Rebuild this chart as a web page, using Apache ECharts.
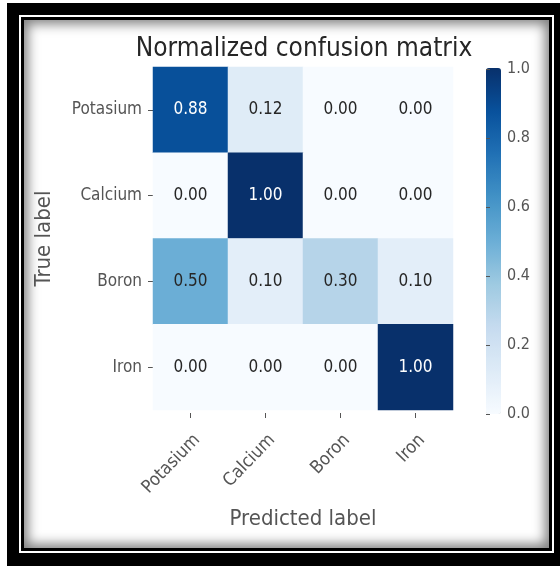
<!DOCTYPE html>
<html>
<head>
<meta charset="utf-8">
<script src="https://cdn.jsdelivr.net/npm/echarts@6/dist/echarts.min.js"></script>
<style>
  html, body { margin: 0; padding: 0; background: #fff; width: 560px; height: 566px; overflow: hidden; }
  .abs { position: absolute; }
  #frame { left: 7px; top: 3px; width: 553px; height: 563px; background: #000; }
  #wline { left: 19px; top: 15px; width: 535px; height: 538px; background: #fff; }
  #bline { left: 21px; top: 17px; width: 531px; height: 534px; background: #000; }
  #content { left: 24px; top: 20px; width: 525px; height: 528px; background: #fff;
             box-shadow: inset 0 0 12px 4px rgba(0,0,0,0.5); }
  #chart { left: 0; top: 0; width: 560px; height: 566px; }
</style>
</head>
<body>
<div id="frame" class="abs"></div>
<div id="wline" class="abs"></div>
<div id="bline" class="abs"></div>
<div id="content" class="abs"></div>
<div id="chart" class="abs"></div>
<script>
// ---- data ----
const predictedLabels = ['Potasium', 'Calcium', 'Boron', 'Iron'];
const trueLabels = ['Potasium', 'Calcium', 'Boron', 'Iron'];
const matrixRows = [
  [0.88, 0.12, 0.00, 0.00],
  [0.00, 1.00, 0.00, 0.00],
  [0.50, 0.10, 0.30, 0.10],
  [0.00, 0.00, 0.00, 1.00]
];
const colorbarMin = 0.0;
const colorbarMax = 1.0;
const colorbarInterval = 0.2;
const blues = ['#f7fbff','#deebf7','#c6dbef','#9ecae1','#6baed6','#4292c6','#2171b5','#08519c','#08306b'];

const FONT = '"DejaVu Sans Condensed", "DejaVu Sans", sans-serif';
const TXT = '#555555';

const thresh = 0.5;
const cells = [];
matrixRows.forEach((row, r) => {
  row.forEach((v, c) => {
    cells.push({
      value: [c, r, v],
      label: { color: v > thresh ? '#ffffff' : '#262626' }
    });
  });
});

const chart = echarts.init(document.getElementById('chart'), null, { renderer: 'canvas' });
chart.setOption({
  backgroundColor: 'transparent',
  animation: false,
  title: {
    text: 'Normalized confusion matrix',
    left: 299, top: 31, textAlign: 'center',
    textStyle: { fontFamily: FONT, fontSize: 26, fontWeight: 'normal', color: '#262626' }
  },
  grid: [
    { left: 153, top: 67, width: 300, height: 343 },
    { left: 486, top: 69, width: 15, height: 345 }
  ],
  xAxis: [
    {
      gridIndex: 0, type: 'category', data: predictedLabels, position: 'bottom',
      offset: 3,
      axisLine: { show: false },
      axisTick: { show: true, alignWithLabel: true, length: 5, lineStyle: { color: TXT } },
      axisLabel: { rotate: 46, margin: 18, verticalAlign: 'top',
                   fontFamily: FONT, fontSize: 18, color: TXT },
      splitLine: { show: false },
      name: 'Predicted label', nameLocation: 'middle', nameGap: 95,
      nameTextStyle: { fontFamily: FONT, fontSize: 22, color: TXT }
    },
    { gridIndex: 1, type: 'value', show: false, min: 0, max: 1 }
  ],
  yAxis: [
    {
      gridIndex: 0, type: 'category', data: trueLabels, inverse: true,
      axisLine: { show: false },
      axisTick: { show: true, alignWithLabel: true, length: 5, lineStyle: { color: TXT } },
      axisLabel: { margin: 11, fontFamily: FONT, fontSize: 17, color: TXT },
      splitLine: { show: false },
      name: 'True label', nameLocation: 'middle', nameGap: 98, nameRotate: 90,
      nameTextStyle: { fontFamily: FONT, fontSize: 22, color: TXT }
    },
    {
      gridIndex: 1, type: 'value', position: 'right', z: 20,
      min: colorbarMin, max: colorbarMax, interval: colorbarInterval,
      axisLine: { show: false },
      axisTick: { show: true, inside: false, length: 4, lineStyle: { color: TXT } },
      axisLabel: { margin: 6, fontFamily: FONT, fontSize: 16, color: TXT,
                   formatter: v => v.toFixed(1) },
      splitLine: { show: false }
    }
  ],
  visualMap: {
    type: 'continuous', min: colorbarMin, max: colorbarMax, z: 1,
    seriesIndex: 0, calculable: false, hoverLink: false,
    orient: 'vertical', left: 486, top: 68, itemWidth: 15, itemHeight: 346,
    padding: 0, text: null, showLabel: false,
    inRange: { color: blues }
  },
  series: [
    {
      type: 'heatmap', xAxisIndex: 0, yAxisIndex: 0, data: cells,
      label: { show: true, fontFamily: FONT, fontSize: 17,
               formatter: p => p.value[2].toFixed(2) },
      itemStyle: { borderWidth: 0 },
      emphasis: { disabled: true }
    }
  ]
});
</script>
</body>
</html>
